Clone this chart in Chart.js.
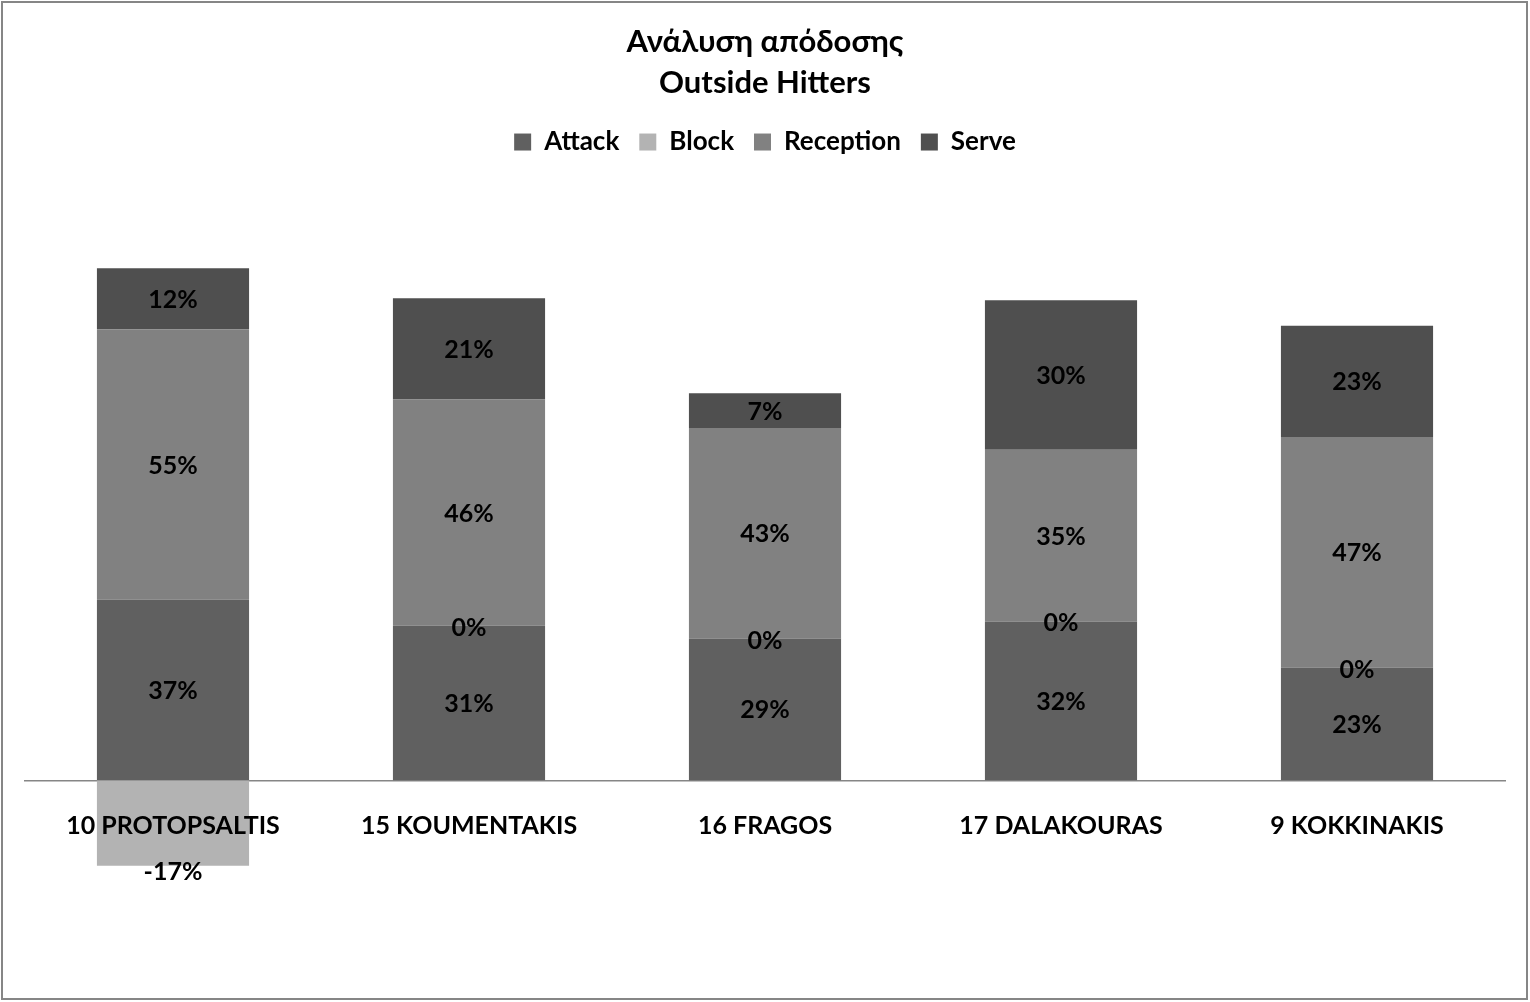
<!DOCTYPE html>
<html lang="el">
<head>
    <meta charset="UTF-8">
    <title>Ανάλυση απόδοσης - Outside Hitters</title>
    <script src="https://cdn.jsdelivr.net/npm/chart.js@4.4.1/dist/chart.umd.min.js"></script>
    <style>
        body {
            margin: 0;
            background: #ffffff;
            font-family: Lato, 'Open Sans', sans-serif;
        }
        .frame {
            position: absolute;
            left: 1px;
            top: 1px;
            width: 1527px;
            height: 999px;
            border: 2px solid #868686;
            box-sizing: border-box;
            pointer-events: none;
        }
        .canvas-wrapper {
            position: relative;
            width: 1530px;
            height: 1002px;
        }
    </style>
</head>
<body>

<div class="canvas-wrapper">
    <canvas id="hittersChart"></canvas>
</div>
<div class="frame"></div>

<script>
    // --- DATA (percent values) ---
    const players = ['10 PROTOPSALTIS', '15 KOUMENTAKIS', '16 FRAGOS', '17 DALAKOURAS', '9 KOKKINAKIS'];
    const attack = [36.7, 31.4, 28.8, 32.3, 22.9];
    const block = [-17.4, 0, 0, 0, 0];
    const reception = [55.0, 46.0, 42.8, 34.9, 46.9];
    const serve = [12.4, 20.6, 7.1, 30.4, 22.6];

    const FONT = 'Lato';

    // draws the percentage inside each segment, negative ones just below the bar
    const segmentLabels = {
        id: 'segmentLabels',
        afterDatasetsDraw(chart) {
            const ctx = chart.ctx;
            ctx.save();
            ctx.font = 'bold 25px ' + FONT;
            ctx.fillStyle = '#000000';
            ctx.textAlign = 'center';
            ctx.textBaseline = 'middle';
            chart.data.datasets.forEach((ds, i) => {
                const meta = chart.getDatasetMeta(i);
                meta.data.forEach((bar, j) => {
                    const v = ds.data[j];
                    const text = Math.round(v) + '%';
                    let y;
                    if (v < 0) {
                        y = bar.y + 6;
                    } else if (v === 0) {
                        y = bar.y + 2;
                    } else {
                        y = (bar.y + bar.base) / 2 + 1;
                    }
                    ctx.fillText(text, bar.x, y);
                });
            });
            ctx.restore();
        }
    };

    const ctx = document.getElementById('hittersChart').getContext('2d');
    new Chart(ctx, {
        type: 'bar',
        data: {
            labels: players,
            datasets: [
                { label: 'Attack', data: attack, backgroundColor: '#606060' },
                { label: 'Block', data: block, backgroundColor: '#b3b3b3' },
                { label: 'Reception', data: reception, backgroundColor: '#818181' },
                { label: 'Serve', data: serve, backgroundColor: '#4f4f4f' }
            ]
        },
        options: {
            responsive: true,
            maintainAspectRatio: false,
            animation: false,
            layout: {
                padding: { left: 25, right: 25, bottom: 25, top: 0 }
            },
            datasets: {
                bar: {
                    categoryPercentage: 1,
                    barPercentage: 0.514,
                    borderWidth: 0
                }
            },
            plugins: {
                title: {
                    display: true,
                    text: ['Ανάλυση απόδοσης', 'Outside Hitters'],
                    color: '#000000',
                    font: { family: FONT, size: 31, weight: 'bold', lineHeight: 1.323 },
                    padding: { top: 21, bottom: 6 }
                },
                // empty spacer under the legend, keeps the plot area where it sits in the original
                subtitle: {
                    display: true,
                    text: ' ',
                    weight: 500,
                    font: { size: 10, lineHeight: 1 },
                    padding: { top: 10, bottom: 5 }
                },
                legend: {
                    position: 'top',
                    labels: {
                        color: '#000000',
                        font: { family: FONT, size: 26, weight: 'bold' },
                        boxWidth: 17,
                        boxHeight: 17,
                        padding: 20
                    }
                },
                tooltip: { enabled: false }
            },
            scales: {
                x: {
                    stacked: true,
                    position: { y: 0 },
                    grid: { display: false, drawTicks: false },
                    border: { display: true, color: '#868686', width: 1.5 },
                    ticks: {
                        z: 1,
                        color: '#000000',
                        font: { family: FONT, size: 25, weight: 'bold' },
                        padding: 31,
                        maxRotation: 0
                    }
                },
                y: {
                    stacked: true,
                    display: false,
                    min: -40,
                    max: 120
                }
            }
        },
        plugins: [segmentLabels]
    });
</script>

</body>
</html>
